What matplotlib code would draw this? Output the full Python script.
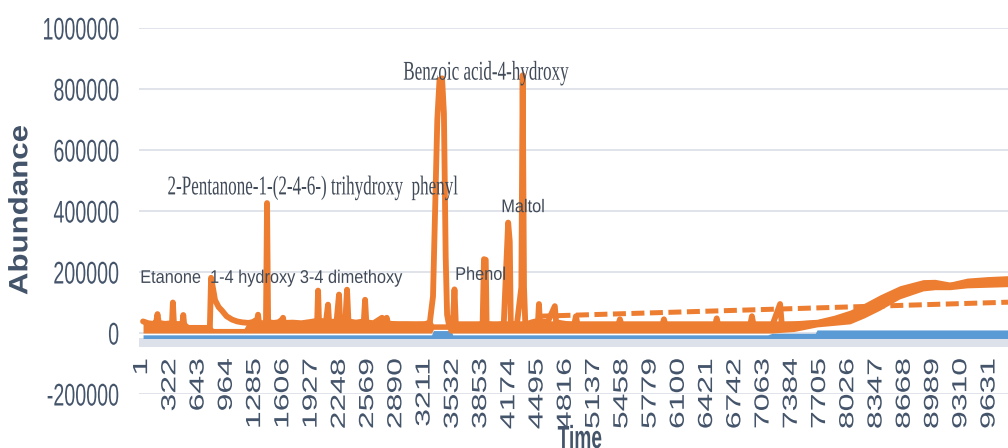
import matplotlib
matplotlib.use("Agg")
import matplotlib.pyplot as plt
from matplotlib.patheffects import AbstractPathEffect
from matplotlib.transforms import Affine2D

# orange series (abundance)
orange_x = [1, 60, 120, 150, 165, 180, 250, 330, 340, 352, 420, 450, 458, 468,
            520, 600, 700, 760, 774, 800, 819, 860, 899, 950, 1012, 1070, 1126,
            1200, 1250, 1300, 1308, 1318, 1360, 1398, 1410, 1422, 1480, 1540,
            1585, 1592, 1600, 1700, 1800, 1900, 1980, 1990, 2000, 2080, 2103,
            2115, 2200, 2228, 2240, 2300, 2319, 2335, 2420, 2510, 2524, 2538,
            2620, 2717, 2730, 2760, 2770, 2785, 2900, 3000, 3100, 3200, 3260,
            3296, 3320, 3345, 3370, 3399, 3420, 3440, 3456, 3480, 3520, 3540,
            3556, 3650, 3750, 3860, 3875, 3895, 3905, 4000, 4100, 4150, 4168,
            4180, 4250, 4300, 4315, 4330, 4345, 4420, 4490, 4500, 4510, 4600,
            4680, 4695, 4800, 4900, 4920, 4940, 5200, 5400, 5420, 5440, 5700,
            5900, 5920, 5940, 6300, 6500, 6520, 6540, 6800, 6900, 6920, 6940,
            7150, 7240, 7260, 7400, 7660, 7850, 8035, 8200, 8375, 8500, 8600,
            8700, 8865, 9000, 9100, 9170, 9365, 9600, 9830]
orange_y = [38000, 32000, 30000, 35000, 62000, 33000, 30000, 32000, 100000, 30000,
            28000, 35000, 59000, 28000, 14000, 12000, 12000, 14000, 181000, 140000,
            108000, 85000, 73000, 55000, 44000, 38000, 35000, 33000, 36000, 45000,
            60000, 34000, 32000, 35000, 426000, 36000, 33000, 35000, 45000, 50000,
            33000, 34000, 32000, 36000, 40000, 139000, 40000, 38000, 93000, 36000,
            38000, 126000, 36000, 40000, 142000, 38000, 34000, 38000, 109000, 35000,
            32000, 50000, 32000, 33000, 50000, 31000, 28000, 28000, 27000, 28000,
            35000, 120000, 400000, 700000, 830000, 835000, 720000, 250000, 60000,
            22000, 22000, 143000, 22000, 24000, 22000, 30000, 242000, 240000, 30000,
            25000, 30000, 362000, 300000, 30000, 30000, 150000, 845000, 150000,
            28000, 35000, 40000, 95000, 38000, 36000, 88000, 35000, 30000, 26000,
            55000, 25000, 24000, 25000, 45000, 24000, 23000, 24000, 45000, 23000,
            22000, 23000, 48000, 22000, 24000, 25000, 55000, 24000, 24000, 95000,
            26000, 28000, 32000, 42000, 55000, 75000, 100000, 120000, 135000,
            148000, 157000, 160000, 153000, 155000, 163000, 167000, 170000]

# spread of the noisy orange trace (lower / upper edge)
band_x = [1, 480, 500, 760, 800, 1150, 1200, 3280, 3300, 3460, 3480, 7150, 7400,
          7660, 7850, 8035, 8200, 8375, 8600, 8865, 9000, 9170, 9365, 9600, 9830]
band_hi = [40000, 40000, 28000, 28000, 15000, 15000, 40000, 40000, 30000, 30000,
           40000, 40000, 40000, 45000, 58000, 75000, 98000, 125000, 155000, 175000,
           176000, 167000, 180000, 185000, 188000]
band_lo = [0, 0, 0, 0, 0, 0, 0, 0, 12000, 12000, 0, 0, 5000, 20000, 25000, 30000,
           50000, 75000, 112000, 138000, 142000, 142000, 148000, 150000, 152000]

# blue series
blue_x = [1, 3280, 3300, 3500, 3520, 7100, 7150, 7640, 7660, 9830]
blue_y = [-6000, -6000, 8000, 8000, -6000, -6000, -1000, -1000, 10000, 10000]
blue_floor = -18000

# dashed trend line
trend_x = [4500, 9830]
trend_y = [55000, 101000]

x_ticks = [1, 322, 643, 964, 1285, 1606, 1927, 2248, 2569, 2890, 3211, 3532,
           3853, 4174, 4495, 4816, 5137, 5458, 5779, 6100, 6421, 6742, 7063,
           7384, 7705, 8026, 8347, 8668, 8989, 9310, 9631]
y_ticks = [-200000, 0, 200000, 400000, 600000, 800000, 1000000]

labels = ["Benzoic acid-4-hydroxy", "2-Pentanone-1-(2-4-6-) trihydroxy  phenyl",
          "Maltol", "Etanone  1-4 hydroxy 3-4 dimethoxy", "Phenol"]
label_x = [2955, 274, 4070, -33, 3546]
label_y = [852000, 476000, 411000, 179000, 189000]
label_serif = [True, True, False, False, False]

orange = "#ED7D31"
blue = "#5B9BD5"
txt = "#44546A"


class Squash(AbstractPathEffect):
    # the source picture is squeezed sideways, so squeeze the glyphs too
    def __init__(self, sx, anchor="center"):
        super().__init__()
        self.sx = sx
        self.anchor = anchor

    def draw_path(self, renderer, gc, tpath, affine, rgbFace=None):
        bb = tpath.get_extents(affine)
        if self.anchor == "left":
            x0 = bb.x0
        elif self.anchor == "right":
            x0 = bb.x1
        else:
            x0 = (bb.x0 + bb.x1) / 2
        t = affine + Affine2D().translate(-x0, 0).scale(self.sx, 1).translate(x0, 0)
        renderer.draw_path(gc, tpath, t, rgbFace)


fig = plt.figure(figsize=(10.08, 4.48), dpi=100)
ax = fig.add_axes([139 / 1008, 54 / 448, 1 - 139 / 1008, 366 / 448])
ax.spines["bottom"].set_position(("data", 0))
for sp in ax.spines.values():
    sp.set_visible(False)

for v in y_ticks:
    ax.axhline(v, color="#DADEE5", lw=1.2, zorder=0)
ax.axhspan(-45000, blue_floor, color="#DDE1E9", lw=0, zorder=0.5)

ax.fill_between(blue_x, blue_floor, blue_y, color=blue, lw=0, zorder=1)
ax.fill_between(band_x, band_lo, band_hi, color=orange, lw=0, zorder=1.5)
ax.plot(orange_x, orange_y, color=orange, lw=4.2, solid_joinstyle="round",
        solid_capstyle="round", zorder=2)
tl, = ax.plot(trend_x, trend_y, color=orange, lw=3.6, zorder=2)
tl.set_dashes([2.6, 1.1])

for s, x, y, serif in zip(labels, label_x, label_y, label_serif):
    if serif:
        ax.text(x, y, s, fontsize=19.5, family="Liberation Serif", color="#404A58",
                ha="left", va="center", zorder=3,
                path_effects=[Squash(0.63, "left")])
    else:
        ax.text(x, y, s, fontsize=13.2, family="Liberation Sans", color="#404A58",
                ha="left", va="center", zorder=3,
                path_effects=[Squash(0.89, "left")])

ax.set_xlim(-45, 9830)
ax.set_ylim(-200000, 1000000)
ax.set_xticks(x_ticks)
ax.set_xticklabels([str(v) for v in x_ticks], rotation=90, fontsize=23,
                   family="Liberation Sans", color=txt)
ax.set_yticks(y_ticks)
ax.set_yticklabels([str(v) for v in y_ticks], fontsize=22.5,
                   family="Liberation Sans", color=txt)
ax.tick_params(axis="x", length=0, pad=18)
ax.tick_params(axis="y", length=0, pad=14)
for lbl in ax.get_xticklabels():
    lbl.set_path_effects([Squash(0.64, "center")])
for lbl in ax.get_yticklabels():
    lbl.set_path_effects([Squash(0.63, "right")])

fig.text(21 / 1008, 1 - 210 / 448, "Abundance", rotation=90, fontsize=22.5,
         fontweight="bold", family="Liberation Sans", color=txt,
         ha="center", va="center", path_effects=[Squash(0.85, "center")])
fig.text(580 / 1008, 1 - 425 / 448, "Time", fontsize=23, fontweight="bold",
         family="Liberation Sans", color=txt, ha="center", va="top",
         path_effects=[Squash(0.6, "center")])

fig.savefig("out.png", dpi=100)
plt.close(fig)
